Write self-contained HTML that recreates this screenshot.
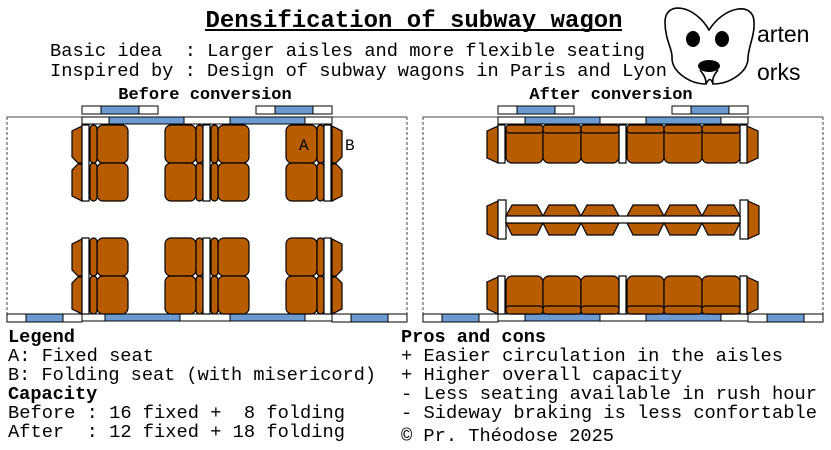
<!DOCTYPE html>
<html><head><meta charset="utf-8"><style>
html,body{margin:0;padding:0;background:#fff;width:831px;height:450px;overflow:hidden}
svg{display:block}
text{font-family:"Liberation Mono",monospace;fill:#000;white-space:pre}
</style></head><body>
<svg width="831" height="450" viewBox="0 0 831 450" xmlns="http://www.w3.org/2000/svg" xml:space="preserve">
<!-- Title -->
<text x="414" y="27" font-size="24" font-weight="bold" text-anchor="middle" textLength="417" lengthAdjust="spacingAndGlyphs">Densification of subway wagon</text>
<line x1="205" y1="30" x2="622" y2="30" stroke="#000" stroke-width="2"/>
<text x="50" y="56" font-size="18.6" textLength="595" lengthAdjust="spacingAndGlyphs">Basic idea  : Larger aisles and more flexible seating</text>
<text x="50" y="76" font-size="18.6" textLength="617" lengthAdjust="spacingAndGlyphs">Inspired by : Design of subway wagons in Paris and Lyon</text>
<text x="205" y="99" font-size="17" font-weight="bold" text-anchor="middle">Before conversion</text>
<text x="611" y="99" font-size="17" font-weight="bold" text-anchor="middle">After conversion</text>

<!-- Logo -->
<g fill="none" stroke="#000" stroke-width="1.6">
<path d="M709,30 C695,5 665,0 665,22 C665,40 673,50 672,58 C672,72 690,84 706,84 C709,78 711,78 713,84 C730,84 748,72 748,58 C748,48 755,35 754,22 C754,2 725,5 709,30 Z"/>
<path d="M700,70 C704,75 706,78 706,84 M718,70 C714,75 712,78 713,84"/>
</g>
<ellipse cx="693" cy="39" rx="7" ry="8" fill="#000"/>
<ellipse cx="722" cy="39" rx="7" ry="8" fill="#000"/>
<ellipse cx="709" cy="66" rx="11" ry="6" fill="#000"/>
<text x="757" y="42" font-size="23" style="font-family:'Liberation Sans',sans-serif">arten</text>
<text x="757" y="80" font-size="23" style="font-family:'Liberation Sans',sans-serif">orks</text>

<!-- ===== BEFORE WAGON ===== -->
<g stroke="#000" stroke-width="1">
<rect x="7" y="117" width="400" height="204" fill="none" stroke="#444" stroke-dasharray="3,2"/>
<line x1="7" y1="117" x2="407" y2="117" stroke="#444"/>
<line x1="7" y1="321" x2="407" y2="321" stroke="#444"/>
<rect x="82" y="106" width="76" height="8" fill="#fff"/><rect x="101" y="106" width="38" height="8" fill="#6b9bd1"/>
<rect x="256" y="106" width="76" height="8" fill="#fff"/><rect x="275" y="106" width="38" height="8" fill="#6b9bd1"/>
<rect x="82" y="117" width="250" height="7" fill="#fff"/>
<rect x="109" y="117" width="75" height="7" fill="#6b9bd1"/><rect x="230" y="117" width="75" height="7" fill="#6b9bd1"/>
<rect x="82" y="314" width="250" height="7" fill="#fff"/>
<rect x="105" y="314" width="75" height="7" fill="#6b9bd1"/><rect x="230" y="314" width="75" height="7" fill="#6b9bd1"/>
<rect x="7" y="314" width="75" height="8" fill="#fff"/><rect x="26" y="314" width="37" height="8" fill="#6b9bd1"/>
<rect x="332" y="314" width="75" height="8" fill="#fff"/><rect x="351" y="314" width="37" height="8" fill="#6b9bd1"/>
</g>

<g id="brow" stroke="#000" stroke-width="1.2" fill="#b85c00">
<polygon points="82,126 72,131 72,157 78,163 82,163"/>
<polygon points="82,164 78,164 72,170 72,196 82,201"/>
<rect x="82" y="125" width="7" height="76" fill="#fff"/>
<rect x="97" y="125" width="31" height="38" rx="6"/>
<rect x="97" y="163" width="31" height="38" rx="6"/>
<rect x="90" y="125" width="7" height="38" rx="3.5"/>
<rect x="90" y="163" width="7" height="38" rx="3.5"/>
<rect x="165" y="125" width="31" height="38" rx="6"/>
<rect x="165" y="163" width="31" height="38" rx="6"/>
<rect x="196" y="125" width="7" height="38" rx="3.5"/>
<rect x="196" y="163" width="7" height="38" rx="3.5"/>
<rect x="203" y="125" width="7" height="76" fill="#fff"/>
<rect x="218" y="125" width="31" height="38" rx="6"/>
<rect x="218" y="163" width="31" height="38" rx="6"/>
<rect x="211" y="125" width="7" height="38" rx="3.5"/>
<rect x="211" y="163" width="7" height="38" rx="3.5"/>
<rect x="286" y="125" width="31" height="38" rx="6"/>
<rect x="286" y="163" width="31" height="38" rx="6"/>
<rect x="317" y="125" width="7" height="38" rx="3.5"/>
<rect x="317" y="163" width="7" height="38" rx="3.5"/>
<rect x="324" y="125" width="7" height="76" fill="#fff"/>
<polygon points="332,126 342,131 342,157 336,163 332,163"/>
<polygon points="332,164 336,164 342,170 342,196 332,201"/>
</g>
<use href="#brow" transform="translate(0,113)"/>
<text x="299" y="150" font-size="16">A</text>
<text x="345" y="150" font-size="16">B</text>

<!-- ===== AFTER WAGON ===== -->
<g stroke="#000" stroke-width="1">
<rect x="423" y="117" width="400" height="204" fill="none" stroke="#444" stroke-dasharray="3,2"/>
<line x1="423" y1="117" x2="823" y2="117" stroke="#444"/>
<line x1="423" y1="321" x2="823" y2="321" stroke="#444"/>
<rect x="498" y="106" width="76" height="8" fill="#fff"/><rect x="517" y="106" width="38" height="8" fill="#6b9bd1"/>
<rect x="672" y="106" width="76" height="8" fill="#fff"/><rect x="691" y="106" width="38" height="8" fill="#6b9bd1"/>
<rect x="498" y="117" width="250" height="7" fill="#fff"/>
<rect x="525" y="117" width="75" height="7" fill="#6b9bd1"/><rect x="646" y="117" width="75" height="7" fill="#6b9bd1"/>
<rect x="498" y="314" width="250" height="7" fill="#fff"/>
<rect x="525" y="314" width="75" height="7" fill="#6b9bd1"/><rect x="646" y="314" width="75" height="7" fill="#6b9bd1"/>
<rect x="423" y="314" width="75" height="8" fill="#fff"/><rect x="442" y="314" width="37" height="8" fill="#6b9bd1"/>
<rect x="748" y="314" width="75" height="8" fill="#fff"/><rect x="767" y="314" width="37" height="8" fill="#6b9bd1"/>
</g>

<g stroke="#000" stroke-width="1.2" fill="#b85c00">
<polygon points="498,126 487,131 487,158 498,163"/>
<rect x="498" y="125" width="7" height="38" fill="#fff"/>
<polygon points="747,126 758,131 758,158 747,163"/>
<rect x="740" y="125" width="7" height="38" fill="#fff"/>
<rect x="619" y="125" width="7" height="38" fill="#fff"/>
<rect x="506" y="125" width="37" height="38" rx="6"/><rect x="506" y="125" width="37" height="8" rx="3"/>
<rect x="543" y="125" width="38" height="38" rx="6"/><rect x="543" y="125" width="38" height="8" rx="3"/>
<rect x="581" y="125" width="38" height="38" rx="6"/><rect x="581" y="125" width="38" height="8" rx="3"/>
<rect x="627" y="125" width="37" height="38" rx="6"/><rect x="627" y="125" width="37" height="8" rx="3"/>
<rect x="664" y="125" width="38" height="38" rx="6"/><rect x="664" y="125" width="38" height="8" rx="3"/>
<rect x="702" y="125" width="38" height="38" rx="6"/><rect x="702" y="125" width="38" height="8" rx="3"/>
<polygon points="498,277 487,282 487,309 498,314"/>
<rect x="498" y="276" width="7" height="38" fill="#fff"/>
<polygon points="747,277 758,282 758,309 747,314"/>
<rect x="740" y="276" width="7" height="38" fill="#fff"/>
<rect x="619" y="276" width="7" height="38" fill="#fff"/>
<rect x="506" y="276" width="37" height="38" rx="6"/><rect x="506" y="306" width="37" height="8" rx="3"/>
<rect x="543" y="276" width="38" height="38" rx="6"/><rect x="543" y="306" width="38" height="8" rx="3"/>
<rect x="581" y="276" width="38" height="38" rx="6"/><rect x="581" y="306" width="38" height="8" rx="3"/>
<rect x="627" y="276" width="37" height="38" rx="6"/><rect x="627" y="306" width="37" height="8" rx="3"/>
<rect x="664" y="276" width="38" height="38" rx="6"/><rect x="664" y="306" width="38" height="8" rx="3"/>
<rect x="702" y="276" width="38" height="38" rx="6"/><rect x="702" y="306" width="38" height="8" rx="3"/>
<polygon points="498,201 487,206 487,234 498,239"/>
<rect x="498" y="200" width="8" height="39" fill="#fff"/>
<polygon points="748,201 759,206 759,234 748,239"/>
<rect x="740" y="200" width="8" height="39" fill="#fff"/>
<polygon points="506,216 512,205 537,205 543,216"/><polygon points="506,223 543,223 537,235 512,235"/>
<polygon points="543,216 549,205 575,205 581,216"/><polygon points="543,223 581,223 575,235 549,235"/>
<polygon points="581,216 587,205 613,205 619,216"/><polygon points="581,223 619,223 613,235 587,235"/>
<polygon points="627,216 633,205 658,205 664,216"/><polygon points="627,223 664,223 658,235 633,235"/>
<polygon points="664,216 670,205 696,205 702,216"/><polygon points="664,223 702,223 696,235 670,235"/>
<polygon points="702,216 708,205 734,205 740,216"/><polygon points="702,223 740,223 734,235 708,235"/>
<rect x="506" y="216" width="234" height="7" fill="#fff"/>
</g>

<!-- Legend -->
<g font-size="18.6">
<text x="8" y="342" font-weight="bold">Legend</text>
<text x="8" y="361" textLength="146" lengthAdjust="spacingAndGlyphs">A: Fixed seat</text>
<text x="8" y="380" textLength="368" lengthAdjust="spacingAndGlyphs">B: Folding seat (with misericord)</text>
<text x="8" y="399" font-weight="bold">Capacity</text>
<text x="8" y="418" textLength="337" lengthAdjust="spacingAndGlyphs">Before : 16 fixed +  8 folding</text>
<text x="8" y="437" textLength="337" lengthAdjust="spacingAndGlyphs">After  : 12 fixed + 18 folding</text>
<text x="401" y="342" font-weight="bold">Pros and cons</text>
<text x="401" y="361" textLength="382" lengthAdjust="spacingAndGlyphs">+ Easier circulation in the aisles</text>
<text x="401" y="380" textLength="281" lengthAdjust="spacingAndGlyphs">+ Higher overall capacity</text>
<text x="401" y="399" textLength="416" lengthAdjust="spacingAndGlyphs">- Less seating available in rush hour</text>
<text x="401" y="418" textLength="416" lengthAdjust="spacingAndGlyphs">- Sideway braking is less confortable</text>
<text x="401" y="441" textLength="213" lengthAdjust="spacingAndGlyphs">© Pr. Théodose 2025</text>
</g>
</svg>
</body></html>
